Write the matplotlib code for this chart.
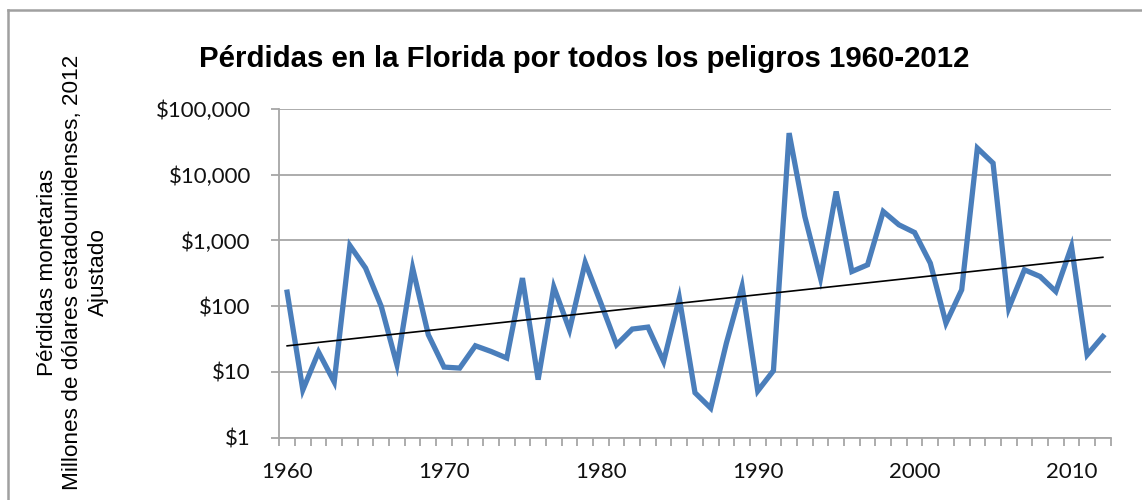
import numpy as np
import matplotlib.pyplot as plt
from matplotlib.lines import Line2D
from matplotlib.ticker import FixedLocator, FuncFormatter

# Pérdidas anuales (millones USD, ajustado 2012)
years = list(range(1960, 2013))
losses = [163, 5.3, 20, 7.0, 836, 379, 99, 12.8, 379, 36.6,
          11.8, 11.4, 24.9, 20.4, 16.2, 267, 7.6, 195, 43.6, 461,
          111, 25.8, 44.7, 47.9, 14.4, 132, 4.8, 2.8, 27.3, 199,
          5.1, 10.4, 43000, 2310, 267, 5550, 336, 425, 2755, 1727,
          1318, 451, 55, 177, 25400, 15000, 93, 357, 282, 167,
          808, 18.1, 34.5]
y_ticks = [1, 10, 100, 1000, 10000, 100000]
x_labels = [1960, 1970, 1980, 1990, 2000, 2010]

title = "Pérdidas en la Florida por todos los peligros 1960-2012"
ylabel = "Pérdidas monetarias\nMillones de dólares estadounidenses, 2012\nAjustado"

W, H = 1142, 500
fig = plt.figure(figsize=(W / 100, H / 100), dpi=100)
ax = fig.add_axes([279.3 / W, 1 - 437.5 / H, (1110.7 - 279.3) / W, (437.5 - 109) / H])

x = np.array(years, dtype=float)
y = np.array(losses, dtype=float)

# línea de tendencia exponencial (ajuste en escala log)
k, b = np.polyfit(x, np.log10(y), 1)
trend = 10 ** (k * x + b)

ax.plot(x, y, color="#4a7ebb", lw=3.8, solid_joinstyle="miter", zorder=3)
ax.plot(x, trend, color="black", lw=1.2, zorder=4)

ax.set_yscale("log")
ax.set_ylim(1, 100000)
ax.set_xlim(1959.5, 2012.5)

ax.yaxis.set_major_locator(FixedLocator(y_ticks))
ax.yaxis.set_minor_locator(FixedLocator([]))
ax.yaxis.set_major_formatter(FuncFormatter(lambda v, p: "${:,.0f}".format(v)))
ax.grid(axis="y", color="#a6a6a6", lw=1.3, zorder=0)

ax.set_xticks(x_labels)
ax.set_xticklabels([str(v) for v in x_labels])
ax.xaxis.set_minor_locator(FixedLocator(np.arange(1959.5, 2013, 1.0)))

for s in ["top", "right"]:
    ax.spines[s].set_visible(False)
for s in ["left", "bottom"]:
    ax.spines[s].set_color("#a6a6a6")
    ax.spines[s].set_linewidth(1.3)

ax.tick_params(axis="y", which="major", length=5.5, width=1.3, color="#a6a6a6",
               pad=15, labelsize=16)
ax.tick_params(axis="x", which="major", length=0, pad=18, labelsize=16)
ax.tick_params(axis="x", which="minor", length=5.5, width=1.3, color="#a6a6a6")
for lab in ax.get_xticklabels() + ax.get_yticklabels():
    lab.set_fontfamily("Lato")
    lab.set_color("#111111")

fig.text(584 / W, 1 - 59 / H, title, ha="center", va="center",
         fontsize=21.2, fontweight="bold", family="Liberation Sans")
fig.text(73 / W, 1 - 272 / H, ylabel, rotation=90, ha="center", va="center",
         multialignment="center", fontsize=16.2, linespacing=1.27,
         family="Liberation Sans")

# borde del área del gráfico
fig.add_artist(Line2D([7.5 / W, 7.5 / W], [-0.1, 1 - 10 / H], color="#a0a0a0", lw=1.8,
                      transform=fig.transFigure))
fig.add_artist(Line2D([7.5 / W, 1.1], [1 - 10 / H, 1 - 10 / H], color="#a0a0a0", lw=1.8,
                      transform=fig.transFigure))

fig.savefig("out.png", dpi=100)
